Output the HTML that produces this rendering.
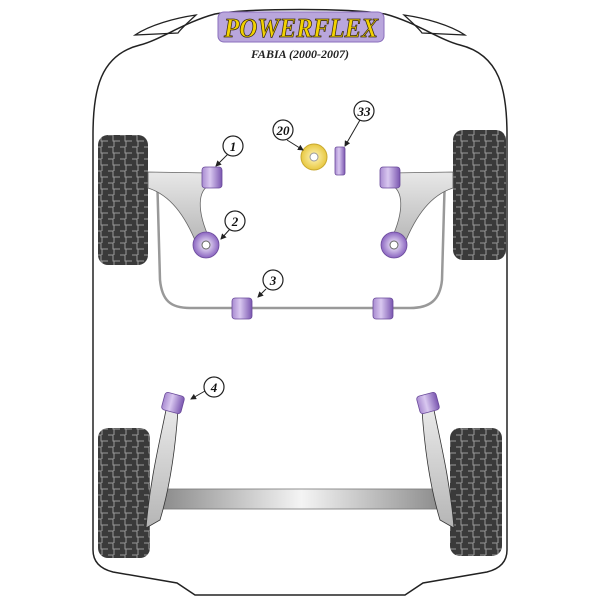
<!DOCTYPE html>
<html><head><style>body{margin:0;background:#fff}svg{display:block}</style></head><body>
<svg width="600" height="600" viewBox="0 0 600 600" xmlns="http://www.w3.org/2000/svg">
<defs>
<pattern id="tread" width="12" height="12" patternUnits="userSpaceOnUse">
<rect width="12" height="12" fill="#3a3a3a"/>
<path d="M0 3h5v6h7M6 0v3M6 9v3" stroke="#9a9a9a" stroke-width="1" fill="none"/>
</pattern>
<linearGradient id="beam" x1="0" x2="1"><stop offset="0" stop-color="#8a8a8a"/><stop offset="0.5" stop-color="#f4f4f4"/><stop offset="1" stop-color="#8a8a8a"/></linearGradient>
<linearGradient id="arm" x1="0" x2="0" y1="0" y2="1"><stop offset="0" stop-color="#e8e8e8"/><stop offset="1" stop-color="#b5b5b5"/></linearGradient>
<linearGradient id="pur" x1="0" x2="1"><stop offset="0" stop-color="#a88ad0"/><stop offset="0.4" stop-color="#d9c8f0"/><stop offset="1" stop-color="#7a56b0"/></linearGradient>
<radialGradient id="yel"><stop offset="0" stop-color="#fff6c0"/><stop offset="1" stop-color="#e8c840"/></radialGradient>
<radialGradient id="pc"><stop offset="0.2" stop-color="#e6dcf5"/><stop offset="1" stop-color="#8a64c0"/></radialGradient>
<marker id="ah" markerWidth="6" markerHeight="6" refX="5" refY="3" orient="auto"><path d="M0,0 L6,3 L0,6 Z" fill="#222"/></marker>
</defs>
<path d="M93,135 C93,90 100,55 140,45 C160,40 185,22 215,14 C250,8 350,8 385,14 C415,22 440,40 460,45 C500,55 507,90 507,135 L507,550 C507,565 495,570 487,572 L423,583 L405,595 L195,595 L177,583 L113,572 C105,570 93,565 93,550 Z" fill="#fff" stroke="#222" stroke-width="1.5"/>
<path d="M135,35 C150,25 175,18 196,15 C185,25 180,30 178,33 Z" fill="none" stroke="#222" stroke-width="1.2"/>
<path d="M465,35 C450,25 425,18 404,15 C415,25 420,30 422,33 Z" fill="none" stroke="#222" stroke-width="1.2"/>
<rect x="218" y="12" width="166" height="30" rx="6" fill="#b9a6dc" stroke="#8a6fbc"/>
<text x="224" y="37" textLength="154" lengthAdjust="spacingAndGlyphs" font-family="Liberation Serif,serif" font-weight="bold" font-style="italic" font-size="27" fill="#f2d200" stroke="#3a2a10" stroke-width="0.8">POWERFLEX</text>
<text x="300" y="58" text-anchor="middle" font-family="Liberation Serif,serif" font-weight="bold" font-style="italic" font-size="12" fill="#222">FABIA (2000-2007)</text>
<rect x="98" y="135" width="50" height="130" rx="10" fill="url(#tread)"/>
<rect x="453" y="130" width="53" height="130" rx="10" fill="url(#tread)"/>
<rect x="98" y="428" width="52" height="130" rx="10" fill="url(#tread)"/>
<rect x="450" y="428" width="52" height="128" rx="10" fill="url(#tread)"/>
<path d="M157,172 L160,280 C162,300 170,308 190,308 L410,308 C430,308 440,300 442,280 L445,172" fill="none" stroke="#999" stroke-width="2.5"/>
<path d="M148,172 L210,173 L210,185 C198,190 196,210 210,240 L197,245 C185,215 170,195 148,188 Z" fill="url(#arm)" stroke="#666" stroke-width="0.8"/>
<path d="M453,172 L391,173 L391,185 C403,190 405,210 391,240 L404,245 C416,215 431,195 453,188 Z" fill="url(#arm)" stroke="#666" stroke-width="0.8"/>
<rect x="160" y="489" width="283" height="20" fill="url(#beam)" stroke="#777" stroke-width="0.8"/>
<path d="M166,410 L178,410 C176,440 172,480 160,520 L146,528 C150,480 160,440 166,410 Z" fill="url(#arm)" stroke="#333" stroke-width="0.8"/>
<path d="M434,410 L422,410 C424,440 428,480 440,520 L454,528 C450,480 440,440 434,410 Z" fill="url(#arm)" stroke="#333" stroke-width="0.8"/>
<g stroke="#6a4a9a" stroke-width="0.8">
<rect x="202" y="167" width="20" height="21" rx="3" fill="url(#pur)"/>
<rect x="380" y="167" width="20" height="21" rx="3" fill="url(#pur)"/>
<rect x="232" y="298" width="20" height="21" rx="3" fill="url(#pur)"/>
<rect x="373" y="298" width="20" height="21" rx="3" fill="url(#pur)"/>
<rect x="335" y="147" width="10" height="28" rx="2" fill="url(#pur)"/>
<rect x="163" y="394" width="20" height="18" rx="3" fill="url(#pur)" transform="rotate(15 173 403)"/>
<rect x="418" y="394" width="20" height="18" rx="3" fill="url(#pur)" transform="rotate(-15 428 403)"/>
<circle cx="206" cy="245" r="13" fill="url(#pc)"/>
<circle cx="394" cy="245" r="13" fill="url(#pc)"/>
</g>
<circle cx="206" cy="245" r="4" fill="#fff" stroke="#666"/>
<circle cx="394" cy="245" r="4" fill="#fff" stroke="#666"/>
<circle cx="314" cy="157" r="13" fill="url(#yel)" stroke="#c8a830"/>
<circle cx="314" cy="157" r="4" fill="#fff" stroke="#999"/>
<g stroke="#222" stroke-width="1" fill="none" marker-end="url(#ah)">
<line x1="228" y1="154" x2="216" y2="166"/>
<line x1="230" y1="229" x2="221" y2="239"/>
<line x1="266" y1="289" x2="258" y2="297"/>
<line x1="287" y1="140" x2="303" y2="150"/>
<line x1="360" y1="120" x2="345" y2="146"/>
<line x1="205" y1="391" x2="191" y2="399"/>
</g>
<g fill="#fff" stroke="#222" stroke-width="1.2">
<circle cx="233" cy="146" r="10"/><circle cx="235" cy="221" r="10"/><circle cx="273" cy="280" r="10"/>
<circle cx="283" cy="130" r="10"/><circle cx="364" cy="111" r="10"/><circle cx="214" cy="387" r="10"/>
</g>
<g font-family="Liberation Serif,serif" font-weight="bold" font-style="italic" font-size="13" text-anchor="middle" fill="#111">
<text x="233" y="151">1</text><text x="235" y="226">2</text><text x="273" y="285">3</text>
<text x="283" y="135">20</text><text x="364" y="116">33</text><text x="214" y="392">4</text>
</g>
</svg>
</body></html>
